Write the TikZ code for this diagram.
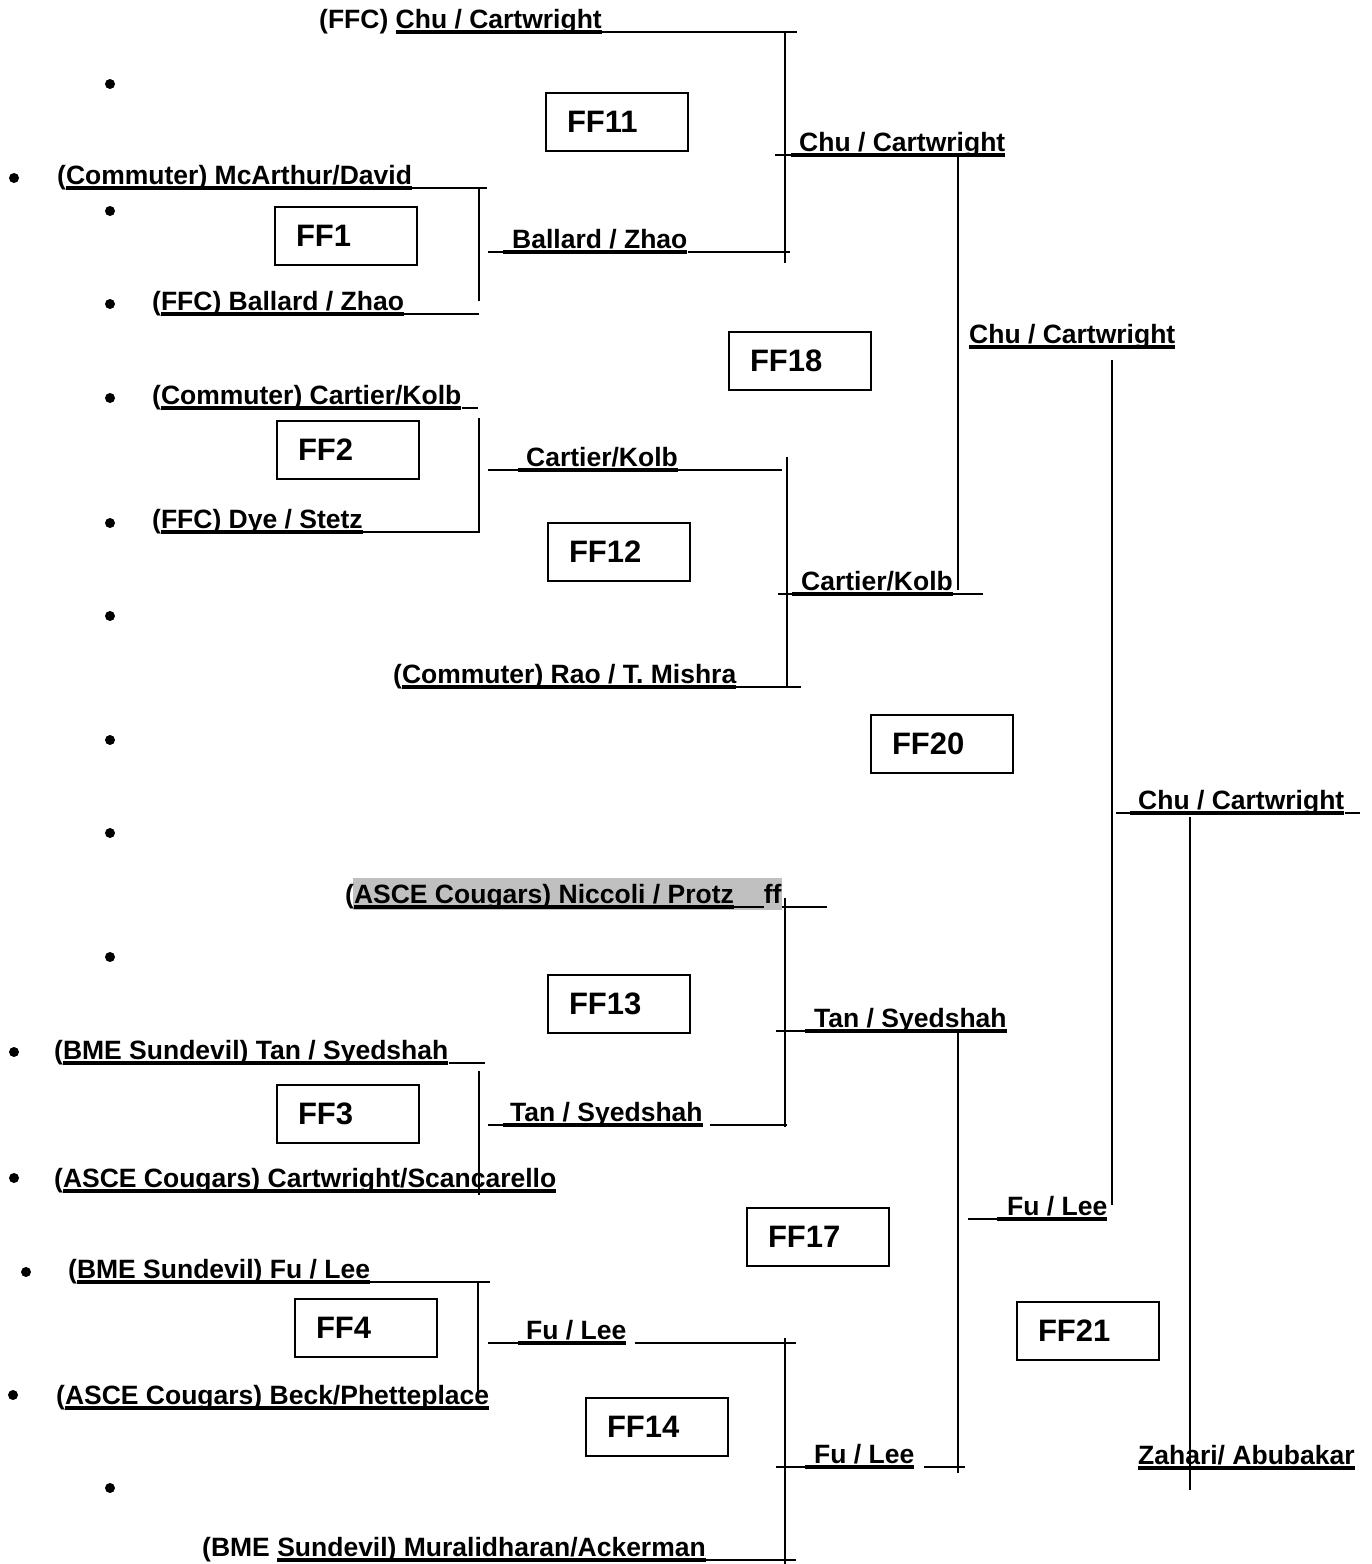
\documentclass[tikz,border=0pt]{standalone}
\usepackage{fontspec}
\setmainfont{Liberation Sans}
\usetikzlibrary{backgrounds}
\definecolor{hlgray}{HTML}{C0C0C0}

\newcommand{\namefont}{\fontsize{26.5}{30}\selectfont\bfseries}
\newcommand{\boxfont}{\fontsize{31}{34}\selectfont\bfseries}
% thick word underline and thin underlined gap
\newcommand{\ulname}[1]{\setbox0=\hbox{#1}\rlap{\rule[-5.3pt]{\wd0}{3.6pt}}\box0}
\newcommand{\ulgap}[1]{\rlap{\rule[-4.2pt]{#1}{1.4pt}}\hspace{#1}}

\begin{document}
\begin{tikzpicture}[x=1pt,y=-1pt,
  team/.style={anchor=south west,inner sep=0pt,text depth=3.5pt,font=\namefont},
  ffbox/.style={draw,line width=1.5pt,minimum width=142pt,minimum height=58pt,
    inner xsep=21pt,inner ysep=0pt,text width=100pt,align=left,font=\boxfont},
  dot/.style={circle,fill=black,inner sep=0pt,minimum size=10pt},
  hline/.style={line width=1.4pt},
  vline/.style={line width=1.8pt}]
\useasboundingbox (0,0) rectangle (1372,1564);

% list bullets
\foreach \n/\x/\y in {a/110/84,b/14/178,c/110/211,d/110/304,e/110/398,
  f/110/523,g/110/616,h/110/740,i/110/833,j/110/957,k/14/1052,l/14/1178,
  m/26/1272,n/13/1395,o/110/1488}
  \node[dot] (dot\n) at (\x,\y) {};

% first round
\node[team] (chu) at (319,32) {(FFC) \ulname{Chu / Cartwright}};
\node[team] (mca) at (57,188) {(\ulname{Commuter) McArthur/David}};
\node[team] (bal) at (152,314) {(\ulname{FFC) Ballard / Zhao}};
\node[team] (car) at (152,408) {(\ulname{Commuter) Cartier/Kolb}};
\node[team] (dye) at (152,532) {(\ulname{FFC) Dye / Stetz}};
\node[team] (rao) at (393,687) {(\ulname{Commuter) Rao / T. Mishra}};
\node[team] (nic) at (345,907) {(\ulname{ASCE Cougars) Niccoli / Protz}\ulgap{30pt}ff};
\node[team] (tan) at (54,1063) {(\ulname{BME Sundevil) Tan / Syedshah}};
\node[team] (sca) at (54,1191) {(\ulname{ASCE Cougars) Cartwright/Scancarello}};
\node[team] (fu) at (68,1282) {(\ulname{BME Sundevil) Fu / Lee}};
\node[team] (bec) at (56,1408) {(\ulname{ASCE Cougars) Beck/Phetteplace}};
\node[team] (mur) at (202,1560) {(BME \ulname{Sundevil) Muralidharan/Ackerman}};
\begin{scope}[on background layer]
\fill[hlgray] ([xshift=8pt,yshift=-3pt]nic.south west) rectangle ([yshift=29pt]nic.south east);
\end{scope}

% winners
\node[team] (w1) at (503,252) {\ulname{\hspace{9pt}Ballard / Zhao}};
\node[team] (w2) at (518,470) {\ulname{\hspace{8pt}Cartier/Kolb}};
\node[team] (w3) at (503,1125) {\ulname{\hspace{7pt}Tan / Syedshah}};
\node[team] (w4) at (518,1343) {\ulname{\hspace{8pt}Fu / Lee}};
\node[team] (w11) at (791,155) {\ulname{\hspace{8pt}Chu / Cartwright}};
\node[team] (w12) at (792,594) {\ulname{\hspace{9pt}Cartier/Kolb}};
\node[team] (w13) at (805,1031) {\ulname{\hspace{9pt}Tan / Syedshah}};
\node[team] (w14) at (805,1467) {\ulname{\hspace{9pt}Fu / Lee}};
\node[team] (w18) at (969,347) {\ulname{Chu / Cartwright}};
\node[team] (w17) at (997,1219) {\ulname{\hspace{10pt}Fu / Lee}};
\node[team] (w20) at (1130,813) {\ulname{\hspace{8pt}Chu / Cartwright}};
\node[team] (w21) at (1138,1468) {\ulname{Zahari/ Abubakar}};

% game boxes
\node[ffbox] (ff11) at (617,122) {FF11};
\node[ffbox] (ff1) at (346,236) {FF1};
\node[ffbox] (ff18) at (800,361) {FF18};
\node[ffbox] (ff2) at (348,450) {FF2};
\node[ffbox] (ff12) at (619,552) {FF12};
\node[ffbox] (ff20) at (942,744) {FF20};
\node[ffbox] (ff13) at (619,1004) {FF13};
\node[ffbox] (ff3) at (348,1114) {FF3};
\node[ffbox] (ff17) at (818,1237) {FF17};
\node[ffbox] (ff4) at (366,1328) {FF4};
\node[ffbox] (ff21) at (1088,1331) {FF21};
\node[ffbox] (ff14) at (657,1427) {FF14};

% bracket FF1
\coordinate (p1a) at (487,188); \coordinate (p1b) at (479,188);
\coordinate (p1c) at (479,301); \coordinate (p1d) at (479,314);
\coordinate (p1e) at (488,252);
\draw[hline] (mca.south east) -- (p1a);
\draw[vline] (p1b) -- (p1c);
\draw[hline] (bal.south east) -- (p1d);
\draw[hline] (p1e) -- (w1.south west);
% bracket FF2
\coordinate (p2a) at (478,408); \coordinate (p2b) at (479,418);
\coordinate (p2c) at (479,532); \coordinate (p2d) at (480,532);
\coordinate (p2e) at (488,470);
\draw[hline] (car.south east) -- (p2a);
\draw[vline] (p2b) -- (p2c);
\draw[hline] (dye.south east) -- (p2d);
\draw[hline] (p2e) -- (w2.south west);
% bracket FF3
\coordinate (p3a) at (485,1063); \coordinate (p3b) at (479,1071);
\coordinate (p3c) at (479,1195); \coordinate (p3e) at (488,1125);
\draw[hline] (tan.south east) -- (p3a);
\draw[vline] (p3b) -- (p3c);
\draw[hline] (p3e) -- (w3.south west);
% bracket FF4
\coordinate (p4a) at (490,1282); \coordinate (p4b) at (478,1282);
\coordinate (p4c) at (478,1393); \coordinate (p4e) at (488,1343);
\draw[hline] (fu.south east) -- (p4a);
\draw[vline] (p4b) -- (p4c);
\draw[hline] (p4e) -- (w4.south west);
% bracket FF11
\coordinate (p11a) at (797,32); \coordinate (p11b) at (785,32);
\coordinate (p11c) at (785,263); \coordinate (p11d) at (790,252);
\coordinate (p11e) at (775,155);
\draw[hline] (chu.south east) -- (p11a);
\draw[vline] (p11b) -- (p11c);
\draw[hline] (w1.south east) -- (p11d);
\draw[hline] (p11e) -- (w11.south west);
% bracket FF12
\coordinate (p12a) at (782,470); \coordinate (p12b) at (787,457);
\coordinate (p12c) at (787,687); \coordinate (p12d) at (801,687);
\coordinate (p12e) at (778,594);
\draw[hline] (w2.south east) -- (p12a);
\draw[vline] (p12b) -- (p12c);
\draw[hline] (rao.south east) -- (p12d);
\draw[hline] (p12e) -- (w12.south west);
% bracket FF13
\coordinate (p13a) at (827,907); \coordinate (p13b) at (785,898);
\coordinate (p13c) at (785,1127); \coordinate (p13d) at (787,1125);
\coordinate (p13e) at (776,1031);
\draw[hline] (nic.south east) -- (p13a);
\draw[vline] (p13b) -- (p13c);
\draw[hline] ([xshift=7pt]w3.south east) -- (p13d);
\draw[hline] (p13e) -- (w13.south west);
% bracket FF14
\coordinate (p14a) at (796,1343); \coordinate (p14b) at (785,1338);
\coordinate (p14c) at (785,1564); \coordinate (p14d) at (796,1560);
\coordinate (p14e) at (776,1467);
\draw[hline] ([xshift=8pt]w4.south east) -- (p14a);
\draw[vline] (p14b) -- (p14c);
\draw[hline] (mur.south east) -- (p14d);
\draw[hline] (p14e) -- (w14.south west);
% bracket FF18
\coordinate (p18b) at (958,155); \coordinate (p18c) at (958,590);
\coordinate (p18d) at (983,594);
\draw[vline] (p18b) -- (p18c);
\draw[hline] (w12.south east) -- (p18d);
% bracket FF17
\coordinate (p17b) at (958,1033); \coordinate (p17c) at (958,1473);
\coordinate (p17d) at (965,1467); \coordinate (p17e) at (968,1219);
\draw[vline] (p17b) -- (p17c);
\draw[hline] ([xshift=9pt]w14.south east) -- (p17d);
\draw[hline] (p17e) -- (w17.south west);
% bracket FF20
\coordinate (p20b) at (1112,360); \coordinate (p20c) at (1112,1205);
\coordinate (p20e) at (1116,813); \coordinate (p20f) at (1360,813);
\draw[vline] (p20b) -- (p20c);
\draw[hline] (p20e) -- (w20.south west);
\draw[hline] (w20.south east) -- (p20f);
% bracket FF21
\coordinate (p21b) at (1190,817); \coordinate (p21c) at (1190,1490);
\draw[vline] (p21b) -- (p21c);
\end{tikzpicture}
\end{document}
